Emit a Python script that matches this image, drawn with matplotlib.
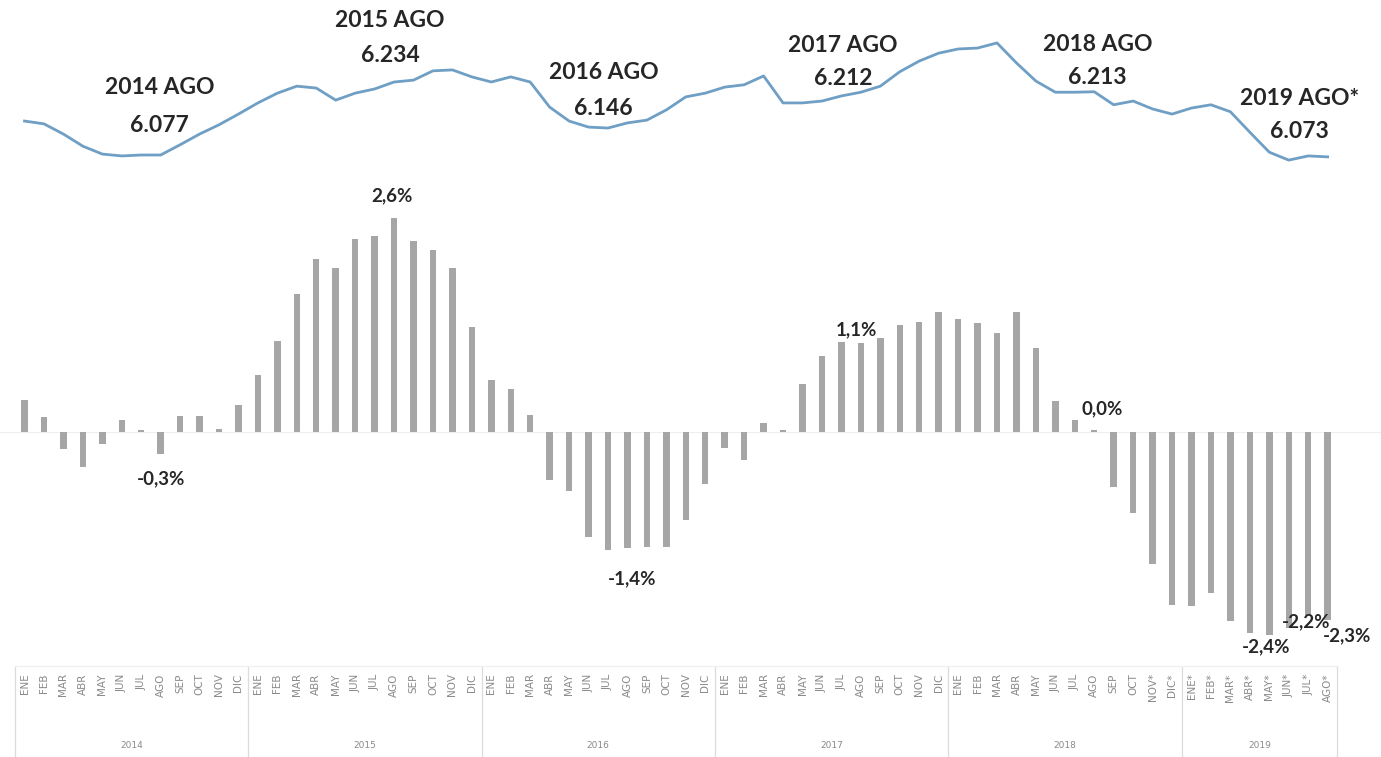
import matplotlib
matplotlib.use("Agg")
import matplotlib.pyplot as plt
import matplotlib.transforms as mtransforms
from matplotlib.lines import Line2D
import numpy as np

plt.rcParams['font.family'] = ['Lato', 'DejaVu Sans']

# ---------------- data ----------------
years = [2014, 2015, 2016, 2017, 2018, 2019]
months_base = ["ENE", "FEB", "MAR", "ABR", "MAY", "JUN", "JUL", "AGO", "SEP", "OCT", "NOV", "DIC"]
month_labels = (months_base * 5)[:-2] + ["NOV*", "DIC*"] + [m + "*" for m in months_base[:8]]
year_of_month = [2014] * 12 + [2015] * 12 + [2016] * 12 + [2017] * 12 + [2018] * 12 + [2019] * 8

# level series (top line)
level = [6.150, 6.144, 6.122, 6.096, 6.079, 6.075, 6.077, 6.077, 6.099, 6.122, 6.142, 6.165,
         6.189, 6.210, 6.225, 6.221, 6.195, 6.210, 6.219, 6.234, 6.238, 6.258, 6.260, 6.245,
         6.234, 6.245, 6.234, 6.180, 6.150, 6.137, 6.135, 6.146, 6.152, 6.174, 6.202, 6.210,
         6.223, 6.228, 6.247, 6.189, 6.189, 6.193, 6.204, 6.212, 6.225, 6.256, 6.279, 6.296,
         6.305, 6.307, 6.318, 6.275, 6.236, 6.212, 6.212, 6.213, 6.185, 6.193, 6.176, 6.165,
         6.178, 6.185, 6.170, 6.126, 6.083, 6.066, 6.075, 6.073]

# year-on-year change (%) (bars)
growth = [0.38, 0.18, -0.20, -0.42, -0.14, 0.15, 0.02, -0.26, 0.19, 0.19, 0.04, 0.33,
          0.69, 1.10, 1.66, 2.09, 1.98, 2.32, 2.36, 2.58, 2.30, 2.19, 1.98, 1.27,
          0.63, 0.52, 0.20, -0.58, -0.71, -1.27, -1.42, -1.40, -1.39, -1.39, -1.06, -0.63,
          -0.19, -0.34, 0.11, 0.02, 0.58, 0.92, 1.09, 1.07, 1.13, 1.29, 1.32, 1.45,
          1.36, 1.31, 1.19, 1.44, 1.01, 0.37, 0.14, 0.02, -0.66, -0.98, -1.59, -2.08,
          -2.10, -1.94, -2.28, -2.42, -2.44, -2.36, -2.20, -2.27]

# annotated points
ago_idx = [7, 19, 31, 43, 55, 67]
ago_titles = ["2014 AGO", "2015 AGO", "2016 AGO", "2017 AGO", "2018 AGO", "2019 AGO*"]
bar_label_idx = [7, 19, 31, 43, 55, 64, 66, 67]

# ---------------- layout ----------------
W, H = 1381, 757
fig = plt.figure(figsize=(W / 100, H / 100), dpi=100)
fig.patch.set_facecolor("white")

def fy(py):
    return 1 - py / H

x = np.arange(len(growth))
x0_px, step_px = 24.5, 19.45
xlim = ((0 - x0_px) / step_px, (W - x0_px) / step_px)

ax_bar = fig.add_axes([0, fy(665), 1, (665 - 180) / H])
ax_line = fig.add_axes([0, fy(180), 1, 180 / H])

# ---------------- bars ----------------
ax_bar.bar(x, growth, width=0.33, color="#a6a6a6", zorder=2)
ax_bar.axhline(0, color="#efefef", lw=0.8, zorder=1)
ax_bar.set_xlim(*xlim)
ppu = 83.0
ax_bar.set_ylim(-(665 - 432) / ppu, (432 - 180) / ppu)
for s in ax_bar.spines.values():
    s.set_visible(False)
ax_bar.set_yticks([])
ax_bar.set_xticks(x)
ax_bar.set_xticklabels(month_labels, rotation=90, fontsize=7.5, color="#8a8a8a",
                       family=["DejaVu Sans"])
ax_bar.tick_params(axis="x", length=0, pad=6)

bar_offsets = {7: (0, -25), 19: (-2, 22), 31: (5, -31), 43: (-4, 13), 55: (8, 22),
               64: (-3, -12), 66: (-2, -7), 67: (19, -15)}
for i in bar_label_idx:
    v = growth[i]
    txt = f"{v:.1f}%".replace(".", ",")
    dx, dy = bar_offsets[i]
    ax_bar.annotate(txt, (x[i], v), xytext=(dx, dy), textcoords="offset pixels",
                    ha="center", va="center", fontsize=13.5, fontweight="bold",
                    color="#262626", zorder=5)

# year group labels and separators
blend = mtransforms.blended_transform_factory(ax_bar.transData, fig.transFigure)
bounds = [-0.5]
for yv in years:
    n = year_of_month.count(yv)
    bounds.append(bounds[-1] + n)
for k, yv in enumerate(years):
    c = (bounds[k] + bounds[k + 1]) / 2
    ax_bar.text(c, fy(745), str(yv), transform=blend, ha="center", va="center",
                fontsize=6.5, color="#8a8a8a", family=["DejaVu Sans"])
for b in bounds:
    fig.add_artist(Line2D([b, b], [fy(667), fy(757)], transform=blend,
                          color="#dcdcdc", lw=0.9))
fig.add_artist(Line2D([bounds[0], bounds[-1]], [fy(666), fy(666)], transform=blend,
                      color="#f0f0f0", lw=1.0))

# ---------------- line ----------------
ax_line.plot(x, level, color="#6f9fc4", lw=2.0, solid_joinstyle="round")
ax_line.set_xlim(*xlim)
lpu = 465.0
ax_line.set_ylim(6.077 - (180 - 155) / lpu, 6.077 + 155 / lpu)
ax_line.axis("off")
ax_line.patch.set_alpha(0)

line_offsets = {7: (-1, 67, 30), 19: (-4, 61, 26), 31: (-24, 50, 14),
                43: (-18, 47, 14), 55: (3, 47, 14), 67: (-28, 58, 25)}
for i, title in zip(ago_idx, ago_titles):
    v = level[i]
    dx, dy1, dy2 = line_offsets[i]
    ax_line.annotate(title, (x[i], v), xytext=(dx, dy1), textcoords="offset pixels",
                     ha="center", va="center", fontsize=16.5, fontweight="bold",
                     color="#262626", annotation_clip=False)
    ax_line.annotate(f"{v:.3f}", (x[i], v), xytext=(dx, dy2), textcoords="offset pixels",
                     ha="center", va="center", fontsize=16.5, fontweight="bold",
                     color="#262626", annotation_clip=False)

fig.savefig("out.png", dpi=100, facecolor="white")
